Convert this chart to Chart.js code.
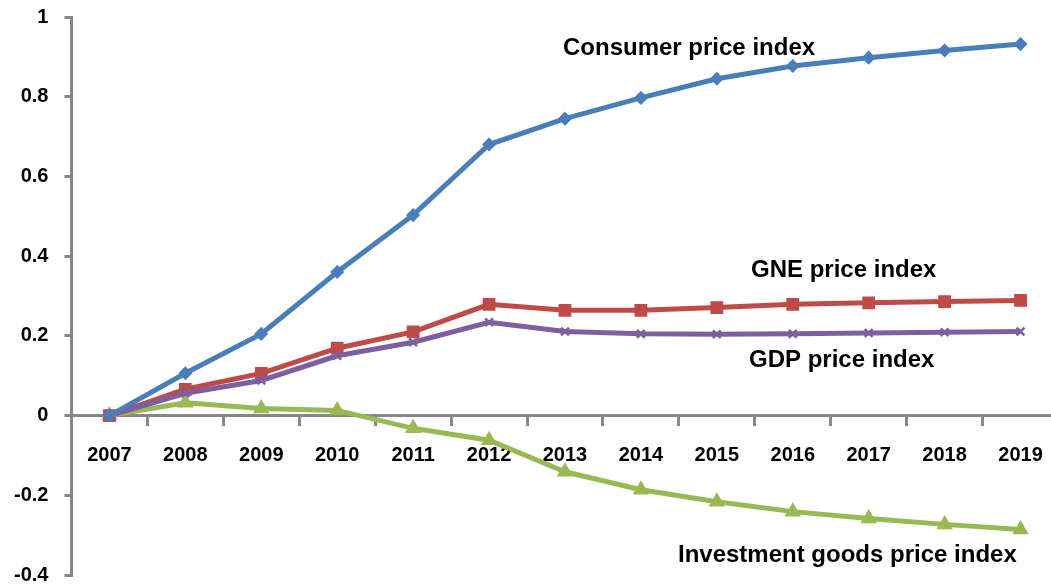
<!DOCTYPE html>
<html>
<head>
<meta charset="utf-8">
<script src="https://cdn.jsdelivr.net/npm/chart.js@4"></script>
<style>
  html, body { margin: 0; padding: 0; background: #fff; overflow: hidden; width: 1051px; height: 584px; }
  #wrap { position: absolute; left: -10px; top: -11px; width: 1079px; height: 614px; }
</style>
</head>
<body>
<div id="wrap"><canvas id="c"></canvas></div>
<script>
const years = ['2007','2008','2009','2010','2011','2012','2013','2014','2015','2016','2017','2018','2019'];
const cpi = [0, 0.106, 0.205, 0.36, 0.503, 0.68, 0.745, 0.797, 0.845, 0.877, 0.898, 0.916, 0.932];
const gne = [0, 0.066, 0.106, 0.169, 0.21, 0.279, 0.264, 0.264, 0.271, 0.279, 0.283, 0.286, 0.289];
const gdp = [0, 0.056, 0.088, 0.15, 0.184, 0.234, 0.211, 0.205, 0.204, 0.205, 0.207, 0.209, 0.211];
const inv = [0, 0.032, 0.018, 0.013, -0.032, -0.062, -0.141, -0.186, -0.216, -0.241, -0.258, -0.273, -0.286];
const seriesNames = ['Consumer price index', 'GDP price index', 'GNE price index', 'Investment goods price index'];
const yTicks = [-0.4, -0.2, 0, 0.2, 0.4, 0.6, 0.8, 1];

const GREY = '#878787';
const FONT = '"Liberation Sans", Arial, sans-serif';
const OFFX = 10, OFFY = 11; // wrapper offset compensation for page coordinates

const labelPlugin = {
  id: 'seriesLabels',
  afterDatasetsDraw(chart, args, opts) {
    const ctx = chart.ctx;
    ctx.save();
    ctx.font = 'bold 24px ' + FONT;
    ctx.fillStyle = '#000';
    ctx.textBaseline = 'middle';
    ctx.textAlign = 'left';
    opts.items.forEach(it => ctx.fillText(it.text, it.x + OFFX, it.y + OFFY));
    ctx.restore();
  }
};

new Chart(document.getElementById('c'), {
  type: 'line',
  data: {
    labels: years,
    datasets: [
      { label: seriesNames[0], data: cpi, borderColor: '#4A7EBB', backgroundColor: '#4A7EBB',
        borderWidth: 5, pointStyle: 'rectRot', pointRadius: 3.5, tension: 0 },
      { label: seriesNames[1], data: gdp, borderColor: '#7D5FA0', backgroundColor: '#7D5FA0',
        borderWidth: 5, pointStyle: 'crossRot', pointRadius: 5.5, pointBorderWidth: 2.5, tension: 0 },
      { label: seriesNames[2], data: gne, borderColor: '#BE4B48', backgroundColor: '#BE4B48',
        borderWidth: 5, pointStyle: 'rect', pointRadius: 5.5, tension: 0 },
      { label: seriesNames[3], data: inv, borderColor: '#98B954', backgroundColor: '#98B954',
        borderWidth: 5, pointStyle: 'triangle', pointRadius: 4.5, tension: 0 }
    ]
  },
  options: {
    responsive: true,
    maintainAspectRatio: false,
    animation: false,
    devicePixelRatio: 1,
    layout: { padding: { left: 8, top: 16, right: 2, bottom: 10 } },
    plugins: {
      legend: { display: false },
      tooltip: { enabled: false },
      seriesLabels: {
        items: [
          { text: seriesNames[0], x: 563, y: 48 },
          { text: seriesNames[2], x: 751, y: 270 },
          { text: seriesNames[1], x: 749, y: 360 },
          { text: seriesNames[3], x: 678, y: 555 }
        ]
      }
    },
    scales: {
      x: {
        position: { y: 0 },
        offset: true,
        grid: { display: true, drawOnChartArea: false, offset: true, color: GREY, lineWidth: 3, tickLength: 9 },
        border: { display: true, color: GREY, width: 3 },
        ticks: { color: '#000', font: { family: FONT, size: 20, weight: 'bold' }, padding: 19, maxRotation: 0, autoSkip: false }
      },
      y: {
        min: -0.4, max: 1,
        afterBuildTicks: axis => { axis.ticks = yTicks.map(v => ({ value: v })); },
        grid: { display: true, drawOnChartArea: false, color: GREY, lineWidth: 3, tickLength: 7 },
        border: { display: true, color: GREY, width: 3 },
        ticks: { color: '#000', font: { family: FONT, size: 20, weight: 'bold' }, padding: 16,
          callback: v => String(Math.round(v * 10) / 10) }
      }
    }
  },
  plugins: [labelPlugin]
});
</script>
</body>
</html>
